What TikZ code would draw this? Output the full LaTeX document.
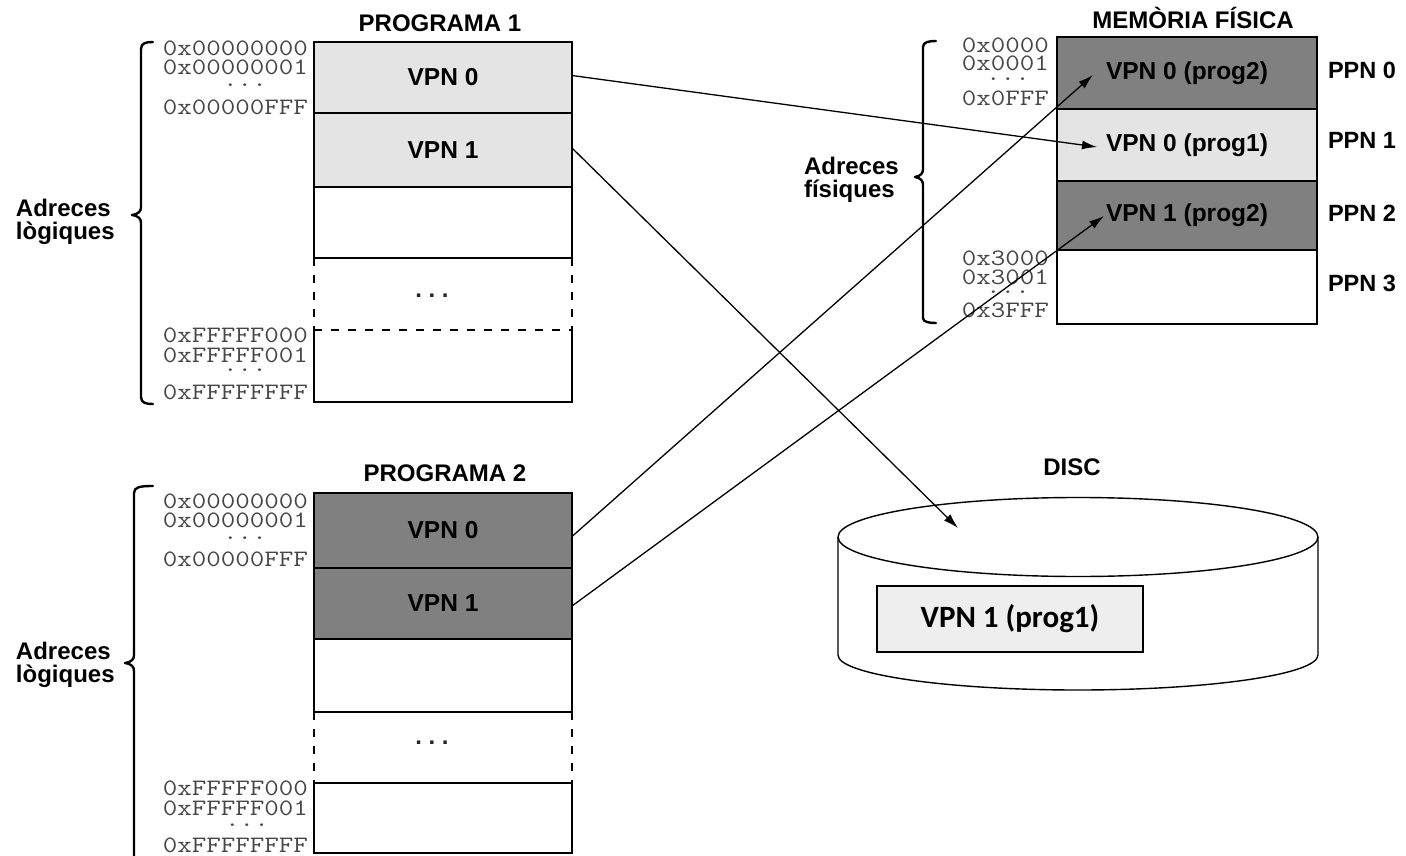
\documentclass[tikz,border=0pt]{standalone}
\usepackage{fontspec}
\setmainfont{Liberation Sans}
\newfontfamily\hexfont[FakeStretch=1.2]{Latin Modern Mono}
\newfontfamily\calfont{Carlito}
\usetikzlibrary{arrows.meta,calc}

\definecolor{cellLight}{RGB}{228,228,228}
\definecolor{cellDark}{RGB}{128,128,128}
\definecolor{discBox}{RGB}{238,238,238}
\definecolor{hexInk}{RGB}{70,70,70}

\begin{document}
\begin{tikzpicture}[x=1pt,y=-1pt,
  every node/.style={inner sep=0pt, outer sep=0pt},
  boxline/.style={line width=1.8pt},
  cell/.style={draw, boxline, minimum width=258pt,
    font=\fontsize{24.5}{24.5}\selectfont\bfseries},
  memcell/.style={draw, boxline, minimum width=260pt,
    font=\fontsize{24.5}{24.5}\selectfont\bfseries},
  bare/.style={minimum width=258pt},
  gap/.style={boxline, dash pattern=on 8pt off 9pt},
  title/.style={font=\fontsize{24}{24}\selectfont\bfseries},
  side/.style={font=\fontsize{24}{23}\selectfont\bfseries, align=left, anchor=west},
  ppn/.style={font=\fontsize{23.5}{23.5}\selectfont\bfseries, anchor=west},
  hex/.style={font=\hexfont\fontsize{23.5}{23.5}\selectfont, text=hexInk, anchor=east},
  hexdots/.style={font=\hexfont\fontsize{23.5}{23.5}\selectfont, text=hexInk},
  rowdots/.style={font=\fontsize{24}{24}\selectfont\bfseries, text=black!85},
  bracket/.style={line width=2.4pt, line join=round, line cap=round},
  link/.style={line width=1.3pt, -{Latex[length=15pt,width=9pt]}},
  discline/.style={line width=1.4pt}
]
\useasboundingbox (0,0) rectangle (1406,856);

% ---------- PROGRAMA 1 ----------
\node[title] (t1) at (440,23) {PROGRAMA 1};
\node[cell, fill=cellLight, minimum height=71pt] (p1a) at (443,77.5) {VPN 0};
\node[cell, fill=cellLight, minimum height=74pt] (p1b) at (443,150) {VPN 1};
\node[cell, fill=white, minimum height=71pt] (p1c) at (443,222.5) {};
\node[bare, minimum height=72pt] (p1e) at (443,366) {};
\draw[boxline] (p1e.north west) -- (p1e.south west) -- (p1e.south east) -- (p1e.north east);
\draw[gap] (p1e.north west) -- (p1e.north east);
\draw[gap] (p1c.south west) -- (p1e.north west);
\draw[gap] (p1c.south east) -- (p1e.north east);
\node[rowdots] (p1dots) at (432,296) {.\ .\ .};

\node[hex] (h1a) at (308,48) {0x00000000};
\node[hex] (h1b) at (308,67) {0x00000001};
\node[hexdots] (h1c) at (245,85) {...};
\node[hex] (h1d) at (308,107) {0x00000FFF};
\node[hex] (h1e) at (308,335) {0xFFFFF000};
\node[hex] (h1f) at (308,355) {0xFFFFF001};
\node[hexdots] (h1g) at (245,370) {...};
\node[hex] (h1h) at (308,392) {0xFFFFFFFF};

\draw[bracket] (153,42) .. controls (146,42) and (141,43) .. (141,49) -- (141,207)
  .. controls (141,211) and (139,214) .. (132,215)
  .. controls (139,216) and (141,219) .. (141,223) -- (141,397)
  .. controls (141,403) and (146,404) .. (153,404);
\node[side] (s1) at (16,222) {Adreces\\lògiques};

% ---------- PROGRAMA 2 ----------
\node[title] (t2) at (445,473) {PROGRAMA 2};
\node[cell, fill=cellDark, minimum height=75pt] (p2a) at (443,530.5) {VPN 0};
\node[cell, fill=cellDark, minimum height=71pt] (p2b) at (443,603.5) {VPN 1};
\node[cell, fill=white, minimum height=73pt] (p2c) at (443,675.5) {};
\node[cell, fill=white, minimum height=70pt] (p2e) at (443,818) {};
\draw[gap] (p2c.south west) -- (p2e.north west);
\draw[gap] (p2c.south east) -- (p2e.north east);
\node[rowdots] (p2dots) at (432,743) {.\ .\ .};

\node[hex] (h2a) at (308,501) {0x00000000};
\node[hex] (h2b) at (308,520) {0x00000001};
\node[hexdots] (h2c) at (245,538) {...};
\node[hex] (h2d) at (308,559) {0x00000FFF};
\node[hex] (h2e) at (308,788) {0xFFFFF000};
\node[hex] (h2f) at (308,808) {0xFFFFF001};
\node[hexdots] (h2g) at (247,825) {...};
\node[hex] (h2h) at (308,845) {0xFFFFFFFF};

\draw[bracket] (153,486) .. controls (140,486) and (134,487) .. (134,493) -- (134,655)
  .. controls (134,659) and (132,662) .. (125,663)
  .. controls (132,664) and (134,667) .. (134,671) -- (134,860);
\node[side] (s2) at (16,665) {Adreces\\lògiques};

% ---------- MEMÒRIA FÍSICA ----------
\node[title] (t3) at (1193,18) {MEMÒRIA FÍSICA};
\node[memcell, fill=cellDark, minimum height=72pt] (m0) at (1187,73) {VPN 0 (prog2)};
\node[memcell, fill=cellLight, minimum height=72pt] (m1) at (1187,145) {VPN 0 (prog1)};
\node[memcell, fill=cellDark, minimum height=69pt] (m2) at (1187,215.5) {VPN 1 (prog2)};
\node[memcell, fill=white, minimum height=74pt] (m3) at (1187,287) {};

\node[ppn] (q0) at (1328,70) {PPN 0};
\node[ppn] (q1) at (1328,140) {PPN 1};
\node[ppn] (q2) at (1328,213) {PPN 2};
\node[ppn] (q3) at (1328,283) {PPN 3};

\node[hex] (hm0) at (1049,45) {0x0000};
\node[hex] (hm1) at (1049,63) {0x0001};
\node[hexdots] (hm2) at (1008,79) {...};
\node[hex] (hm3) at (1049,98) {0x0FFF};
\node[hex] (hm4) at (1049,258) {0x3000};
\node[hex] (hm5) at (1049,277) {0x3001};
\node[hexdots] (hm6) at (1008,292) {...};
\node[hex] (hm7) at (1049,310) {0x3FFF};

\draw[bracket] (936,41) .. controls (929,41) and (923,42) .. (923,47) -- (923,169)
  .. controls (923,173) and (921,176) .. (915,177)
  .. controls (921,178) and (923,181) .. (923,185) -- (923,318)
  .. controls (923,322) and (929,323) .. (936,323);
\node[side] (s3) at (804,180) {Adreces\\físiques};

% ---------- DISC ----------
\node[title] (t4) at (1072,467) {DISC};
\draw[discline, fill=white] (838,537) -- (838,655)
  arc[start angle=180, end angle=0, x radius=240, y radius=35] -- (1318,537);
\draw[discline, fill=white] (1078,537) ellipse[x radius=240, y radius=39.5];
\node[draw, line width=1.4pt, fill=discBox, minimum width=266pt, minimum height=66pt,
  font=\calfont\bfseries\fontsize{31}{31}\selectfont] (d1) at (1010,619) {VPN 1 (prog1)};

% ---------- mappings ----------
\coordinate (e1) at (1097,147);
\coordinate (e2) at (958,528);
\coordinate (e3) at (1093,75);
\coordinate (e4) at (1104,216);
\draw[link] ([yshift=2pt]p1a.east) -- (e1);
\draw[link] ([yshift=2pt]p1b.east) -- (e2);
\draw[link] ([yshift=-6pt]p2a.east) -- (e3);
\draw[link] ([yshift=-2.5pt]p2b.east) -- (e4);
\end{tikzpicture}
\end{document}
